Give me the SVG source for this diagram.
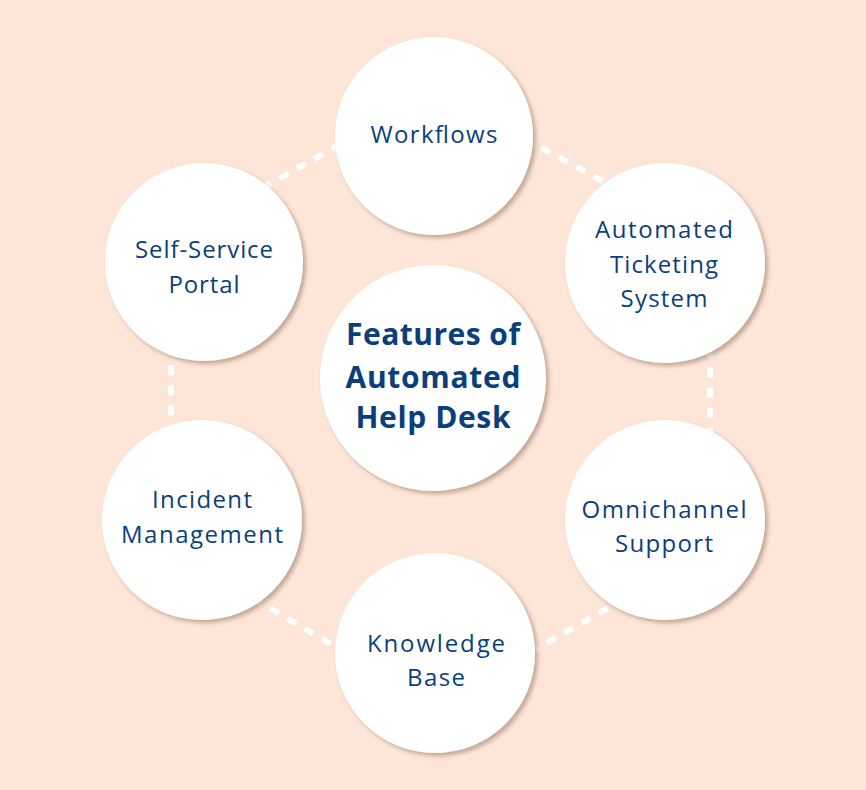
<svg xmlns="http://www.w3.org/2000/svg" width="866" height="790" viewBox="0 0 866 790">
<defs>
<filter id="sh" x="-20%" y="-20%" width="140%" height="140%">
<feDropShadow dx="3" dy="3" stdDeviation="2" flood-color="#7a5a45" flood-opacity="0.45"/>
</filter>
<style>
.c{fill:#ffffff;filter:url(#sh)}
.t{font-family:"Open Sans","Noto Sans",sans-serif;font-size:24px;fill:#0b3f7c;text-anchor:middle}
.b{font-family:"Open Sans","Noto Sans",sans-serif;font-size:30px;font-weight:bold;fill:#0b3f7c;text-anchor:middle}
.d{fill:none;stroke:#ffffff;stroke-width:6;stroke-dasharray:10 10}
</style>
</defs>
<rect width="866" height="790" fill="#fde6d8"/>
<g id="connectors">
<polygon class="d" points="436,90 710,240 710,550 436,706 171,550 171,240"/>
</g>
<g id="workflows">
<circle class="c" cx="434" cy="136" r="99"/>
<text class="t" x="434" y="143" textLength="127" lengthAdjust="spacing">Workflows</text>
</g>
<g id="ticketing">
<circle class="c" cx="665" cy="263" r="100"/>
<text class="t" x="664" y="238" textLength="138" lengthAdjust="spacing">Automated</text>
<text class="t" x="664" y="273" textLength="108" lengthAdjust="spacing">Ticketing</text>
<text class="t" x="664" y="307" textLength="87" lengthAdjust="spacing">System</text>
</g>
<g id="omnichannel">
<circle class="c" cx="665" cy="520" r="100"/>
<text class="t" x="664" y="518" textLength="165" lengthAdjust="spacing">Omnichannel</text>
<text class="t" x="664" y="552" textLength="98" lengthAdjust="spacing">Support</text>
</g>
<g id="knowledge">
<circle class="c" cx="435" cy="653" r="100"/>
<text class="t" x="436" y="652" textLength="138" lengthAdjust="spacing">Knowledge</text>
<text class="t" x="436" y="686" textLength="58" lengthAdjust="spacing">Base</text>
</g>
<g id="incident">
<circle class="c" cx="202" cy="520" r="100"/>
<text class="t" x="202" y="508" textLength="100" lengthAdjust="spacing">Incident</text>
<text class="t" x="202" y="543" textLength="162" lengthAdjust="spacing">Management</text>
</g>
<g id="selfservice">
<circle class="c" cx="204" cy="262" r="99"/>
<text class="t" x="204" y="258" textLength="138" lengthAdjust="spacing">Self-Service</text>
<text class="t" x="204" y="293" textLength="71" lengthAdjust="spacing">Portal</text>
</g>
<g id="center">
<circle class="c" cx="433" cy="378" r="113"/>
<text class="b" x="433" y="345" textLength="174" lengthAdjust="spacing">Features of</text>
<text class="b" x="433" y="388" textLength="175" lengthAdjust="spacing">Automated</text>
<text class="b" x="433" y="428" textLength="155" lengthAdjust="spacing">Help Desk</text>
</g>
</svg>
